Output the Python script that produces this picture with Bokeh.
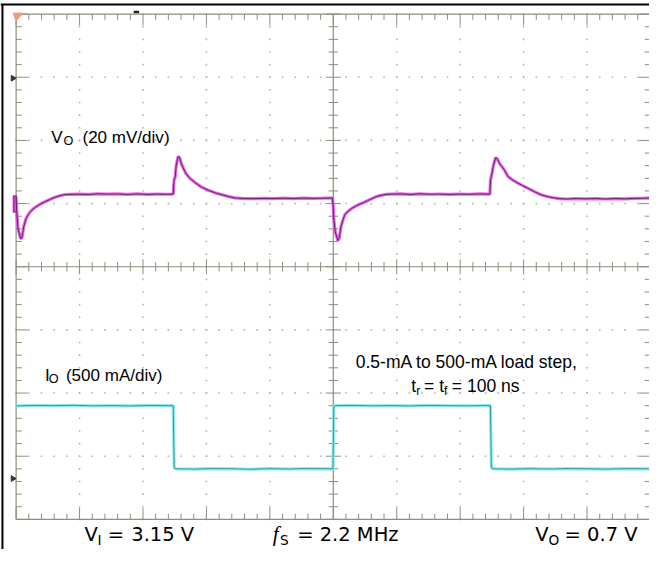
import numpy as np
from bokeh.plotting import figure
from bokeh.models import Range1d, Label
from bokeh.embed import file_html
from bokeh.resources import INLINE

# ---------------- data (time in screen divisions) ----------------
vo_time = [0.000, 0.008, 0.031, 0.072, 0.092, 0.123, 0.154, 0.185, 0.215, 0.262,
           0.308, 0.369, 0.446, 0.523, 0.600, 0.677, 0.754, 0.831, 0.985, 1.138,
           1.292, 1.446, 1.600, 1.754, 1.908, 2.062, 2.215, 2.369, 2.477, 2.485,
           2.492, 2.508, 2.523, 2.554, 2.577, 2.600, 2.631, 2.677, 2.738, 2.831,
           2.923, 3.031, 3.138, 3.246, 3.354, 3.446, 3.600, 3.754, 3.908, 4.062,
           4.215, 4.369, 4.523, 4.677, 4.831, 4.969, 4.985,
           4.997, 5.008, 5.031, 5.072, 5.092, 5.123, 5.154, 5.185, 5.231, 5.292,
           5.354, 5.415, 5.477, 5.538, 5.600, 5.677, 5.754, 5.831, 5.908, 6.062,
           6.215, 6.369, 6.523, 6.677, 6.831, 6.985, 7.138, 7.292, 7.469, 7.477,
           7.492, 7.523, 7.558, 7.585, 7.615, 7.646, 7.692, 7.754, 7.831, 7.908,
           7.985, 8.062, 8.169, 8.262, 8.369, 8.462, 8.569, 8.677, 8.831, 8.985,
           9.138, 9.292, 9.446, 9.600, 9.754, 9.908, 10.000]
vo_mv = [0.2, -3.5, -9.7, -12.9, -12.5, -8.8, -6.6, -5.4, -4.5, -3.5,
         -2.8, -2.0, -1.2, -0.5, 0.2, 0.7, 1.1, 1.2, 1.3, 1.2,
         1.4, 1.3, 1.35, 1.2, 1.35, 1.2, 1.3, 1.25, 1.3, 4.2,
         6.0, 6.6, 10.3, 13.2, 12.9, 11.2, 9.7, 7.8, 6.3, 4.8,
         3.5, 2.5, 1.7, 1.1, 0.5, 0.1, -0.1, -0.15, -0.05, -0.1,
         0.0, -0.1, 0.05, -0.05, 0.0, 0.06, 0.15,
         -2.0, -6.6, -10.6, -13.4, -12.8, -8.8, -6.8, -5.1, -4.2, -3.2,
         -2.5, -1.9, -1.4, -0.8, -0.2, 0.5, 0.9, 1.2, 1.3, 1.35,
         1.2, 1.4, 1.25, 1.3, 1.2, 1.3, 1.25, 1.35, 1.3, 5.7,
         6.9, 10.3, 12.8, 12.5, 11.2, 10.3, 9.1, 6.9, 5.7, 4.8,
         4.0, 3.2, 2.1, 1.2, 0.55, 0.15, -0.15, -0.25, -0.1, -0.2,
         -0.1, -0.25, -0.1, -0.2, -0.05, 0.0, 0.05]

io_time = [0.000, 0.300, 0.600, 0.900, 1.200, 1.500, 1.800, 2.100, 2.400, 2.477,
           2.492, 2.520, 2.800, 3.100, 3.400, 3.700, 4.000, 4.300, 4.600, 4.900,
           4.995, 5.008, 5.030, 5.300, 5.600, 5.900, 6.200, 6.500, 6.800, 7.100,
           7.400, 7.477, 7.492, 7.520, 7.800, 8.100, 8.400, 8.700, 9.000, 9.300,
           9.600, 10.000]
io_ma = [498, 502, 500, 503, 499, 501, 498, 502, 500, 500,
         8, 0.5, -2, 2, 0.5, -3, 1, -1, 2, 0.5,
         0.5, 492, 500, 502, 499, 501, 498, 502, 500, 499,
         501, 500, 8, 0.5, -2, 1, -1, 2, 0.5, -2,
         1, 0.5]

VO_SCALE = 20.0    # mV / div
IO_SCALE = 500.0   # mA / div
VO_LEVEL = 1.085   # reference level of V_O trace (div from centre)
IO_LEVEL = -3.2    # 0-mA level of I_O trace (div from centre)

# ---------------- layout ----------------
W, H = 649, 549
REF_W, REF_H = 665.0, 565.0
SC = 0.5 * (W / REF_W + H / REF_H)   # overall scale of the drawing
PX = 65.0                             # reference pixels per division
x_start, x_end = -16 / PX, (REF_W - 16) / PX
y_start, y_end = (274 - REF_H) / PX, 274 / PX


def X(px):  # reference x -> divisions
    return (px - 16) / PX


def Y(py):  # reference y -> divisions
    return (274 - py) / PX


p = figure(width=W, height=H, x_range=Range1d(x_start, x_end),
           y_range=Range1d(y_start, y_end), output_backend="svg",
           toolbar_location=None, min_border=0, title=None,
           x_axis_location=None, y_axis_location=None,
           outline_line_color=None, background_fill_color="white",
           border_fill_color="white")
p.grid.visible = False
p.extra_y_ranges = {
    "vo": Range1d((y_start - VO_LEVEL) * VO_SCALE, (y_end - VO_LEVEL) * VO_SCALE),
    "io": Range1d((y_start - IO_LEVEL) * IO_SCALE, (y_end - IO_LEVEL) * IO_SCALE),
}

AX = "#8e8e7e"
DOT = "#b4b4b4"

# dotted graticule
dx, dy = [], []
steps_y = np.round(np.arange(-4, 4.001, 0.2), 3)
steps_x = np.round(np.arange(0, 10.001, 0.2), 3)
for gx in [1, 2, 3, 4, 6, 7, 8, 9]:
    for yy in steps_y:
        dx.append(gx); dy.append(yy)
for gy in [-3, -2, -1, 1, 2, 3]:
    for xx in steps_x:
        dx.append(xx); dy.append(gy)
p.scatter(dx, dy, marker="square", size=1.6, fill_color=DOT, line_color=None)

# border and centre axes
p.segment(x0=[0, 0, 0, 10, 0, 5], y0=[4, -4, -4, -4, 0, -4],
          x1=[10, 10, 0, 10, 10, 5], y1=[4, -4, 4, 4, 0, 4],
          line_color=AX, line_width=1.2)

# ticks
sx0, sy0, sx1, sy1 = [], [], [], []
for xx in steps_x:
    major = abs(xx - round(xx)) < 1e-6
    L = 0.18 if major else 0.09
    c = 0.12 if major else 0.075
    sx0 += [xx, xx, xx]; sx1 += [xx, xx, xx]
    sy0 += [4, -4, -c]; sy1 += [4 - L, -4 + L, c]
for yy in steps_y:
    major = abs(yy - round(yy)) < 1e-6
    L = 0.18 if major else 0.09
    c = 0.12 if major else 0.075
    sy0 += [yy, yy, yy]; sy1 += [yy, yy, yy]
    sx0 += [0, 10, 5 - c]; sx1 += [L, 10 - L, 5 + c]
p.segment(sx0, sy0, sx1, sy1, line_color=AX, line_width=1)

# black frame lines (top and left)
p.segment(x0=[x_start, X(2)], y0=[Y(4), y_start],
          x1=[x_end, X(2)], y1=[Y(4), Y(4)],
          line_color="black", line_width=2)

# channel / trigger markers
p.patch([X(13), X(23), X(16)], [Y(13), Y(13), Y(21)], fill_color="#ef9a78",
        line_color="#ef9a78")
p.quad(left=[X(13)], right=[X(16.5)], top=[Y(201)], bottom=[Y(218)],
       fill_color="#c832c8", line_color="#7a1f7a", line_width=0.8)
p.patch([X(11), X(11), X(16)], [Y(77), Y(83), Y(80)], fill_color="#333333",
        line_color="#333333")
p.patch([X(11), X(11), X(16)], [Y(489), Y(495), Y(492)], fill_color="#333333",
        line_color="#333333")
p.quad(left=[X(136.5)], right=[X(142)], top=[Y(10.5)], bottom=[Y(13)],
       fill_color="#222222", line_color=None)

# traces
p.line(io_time, io_ma, y_range_name="io", line_color="#8fecec", line_width=3.2)
p.line(io_time, io_ma, y_range_name="io", line_color="#2f9a9a", line_width=1)
p.line(vo_time, vo_mv, y_range_name="vo", line_color="#e052e0", line_width=3.2,
       line_alpha=0.85)
p.line(vo_time, vo_mv, y_range_name="vo", line_color="#6e1a6e", line_width=1)

# texts: (text, x, baseline y, size) in reference pixels
SANS = "Liberation Sans"
WIDE = "DejaVu Sans"
labels = [
    ("V", 52, 147, 17.5, "normal", SANS),
    ("O", 64.5, 149.5, 13, "normal", SANS),
    ("(20 mV/div)", 84, 147, 17.5, "normal", SANS),
    ("I", 45.5, 392, 17.5, "normal", SANS),
    ("O", 49.5, 394.5, 13, "normal", SANS),
    ("(500 mA/div)", 67, 392, 17.5, "normal", SANS),
    ("0.5-mA to 500-mA load step,", 364, 378, 18, "normal", SANS),
    ("t", 421, 403, 18, "normal", SANS),
    ("r", 426, 406, 12.5, "normal", SANS),
    ("= t", 434, 403, 18, "normal", SANS),
    ("f", 454.5, 406, 12.5, "normal", SANS),
    ("= 100 ns", 462.5, 403, 18, "normal", SANS),
    ("V", 86, 557, 20, "normal", WIDE),
    ("I", 99.5, 560, 14, "normal", WIDE),
    ("=", 110, 557, 20, "normal", WIDE),
    ("3.15 V", 134, 557, 20, "normal", WIDE),
    ("f", 279, 557, 22, "italic", "Liberation Serif"),
    ("S", 286.5, 560, 14, "normal", WIDE),
    ("= 2.2 MHz", 304, 557, 20, "normal", WIDE),
    ("V", 548, 557, 20, "normal", WIDE),
    ("O", 561.5, 560, 14, "normal", WIDE),
    ("= 0.7 V", 578, 557, 20, "normal", WIDE),
]
for txt, px, py, size, style, font in labels:
    # labels are anchored on the centre of their text box
    y_anchor = py - 0.3465 * size
    p.add_layout(Label(x=X(px), y=Y(y_anchor), text=txt, text_font=font,
                       text_font_size=f"{size * SC:.2f}px",
                       text_font_style=style, text_color="black",
                       text_align="left", text_baseline="alphabetic"))

open("out.html", "w").write(file_html(p, INLINE))
